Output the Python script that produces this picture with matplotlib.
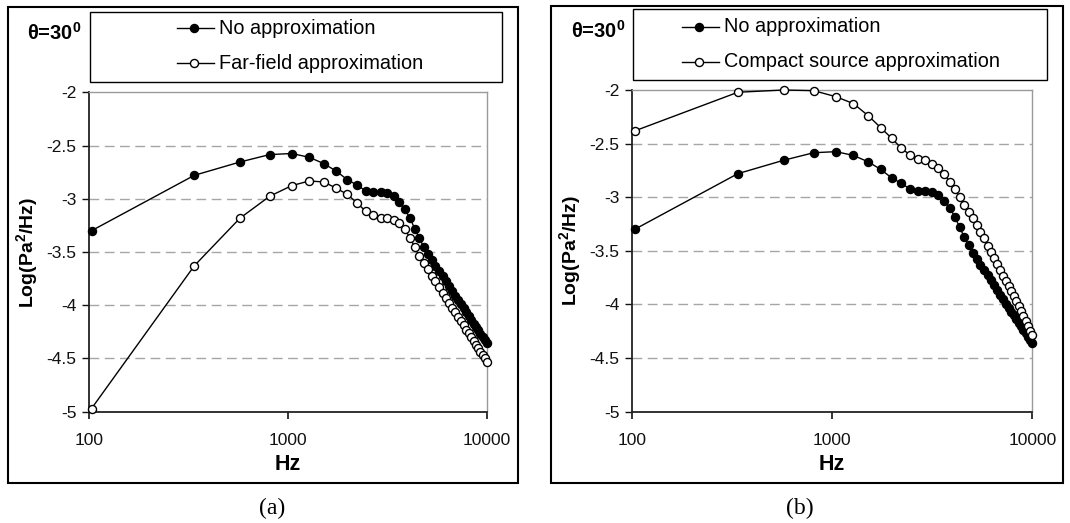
import matplotlib
matplotlib.use("Agg")
import matplotlib.pyplot as plt
from matplotlib.lines import Line2D
from matplotlib.patches import Rectangle
from matplotlib.ticker import FixedLocator, FuncFormatter, NullLocator

plt.rcParams["font.family"] = ["Liberation Sans", "DejaVu Sans"]
plt.rcParams["mathtext.fontset"] = "custom"
plt.rcParams["mathtext.rm"] = "Liberation Sans"
plt.rcParams["mathtext.bf"] = "Liberation Sans:bold"
plt.rcParams["axes.unicode_minus"] = False

# Spectral data (frequency in Hz, level as log10 of Pa^2/Hz)
freq_hz = [103, 338, 573, 808, 1043, 1278, 1513, 1748, 1983, 2218, 2453,
           2688, 2923, 3158, 3393, 3628, 3863, 4098, 4333, 4568, 4803, 5038,
           5273, 5508, 5743, 5978, 6213, 6448, 6683, 6918, 7153, 7388, 7623,
           7858, 8093, 8328, 8563, 8798, 9033, 9268, 9503, 9738, 9973]

no_approx = [-3.30, -2.78, -2.655, -2.585, -2.575, -2.61, -2.67, -2.74, -2.82,
             -2.87, -2.925, -2.94, -2.94, -2.95, -2.975, -3.035, -3.10, -3.18,
             -3.28, -3.37, -3.45, -3.52, -3.576, -3.630, -3.681, -3.728,
             -3.772, -3.818, -3.865, -3.910, -3.952, -3.991, -4.029, -4.066,
             -4.102, -4.137, -4.172, -4.205, -4.237, -4.269, -4.300, -4.330,
             -4.359]

far_field = [-4.97, -3.63, -3.183, -2.977, -2.877, -2.833, -2.842, -2.901,
             -2.958, -3.037, -3.117, -3.152, -3.18, -3.18, -3.196, -3.227,
             -3.286, -3.365, -3.453, -3.54, -3.604, -3.664, -3.722, -3.777,
             -3.830, -3.881, -3.930, -3.977, -4.023, -4.066, -4.109, -4.150,
             -4.189, -4.228, -4.265, -4.302, -4.337, -4.371, -4.405, -4.437,
             -4.469, -4.500, -4.530]

compact_src = [-2.382, -2.021, -2.000, -2.006, -2.062, -2.127, -2.239, -2.351,
               -2.450, -2.544, -2.606, -2.641, -2.656, -2.690, -2.728, -2.784,
               -2.856, -2.926, -3.001, -3.070, -3.138, -3.197, -3.259, -3.321,
               -3.377, -3.455, -3.514, -3.571, -3.627, -3.680, -3.732, -3.781,
               -3.830, -3.876, -3.922, -3.966, -4.011, -4.060, -4.108, -4.155,
               -4.201, -4.246, -4.289]

x_ticks = [100, 1000, 10000]
y_ticks = [-5, -4.5, -4, -3.5, -3, -2.5, -2]
angle_label = r"θ=30$^\mathbf{0}$"

W, H = 1070, 523
fig = plt.figure(figsize=(W / 100, H / 100), dpi=100)
fig.patch.set_facecolor("white")


def fx(x):
    return x / W


def fy(y):
    return 1 - y / H


def style_axes(ax):
    ax.set_xscale("log")
    ax.set_xlim(100, 10000)
    ax.set_ylim(-5, -2)
    ax.xaxis.set_major_locator(FixedLocator(x_ticks))
    ax.xaxis.set_minor_locator(NullLocator())
    ax.xaxis.set_major_formatter(FuncFormatter(lambda v, p: "%d" % v))
    ax.yaxis.set_major_locator(FixedLocator(y_ticks))
    ax.yaxis.set_major_formatter(FuncFormatter(lambda v, p: "%g" % v))
    for y in y_ticks[1:-1]:
        ax.axhline(y, color="#a6a6a6", lw=1.0, dashes=(7, 4), zorder=1)
    for s in ("top", "right"):
        ax.spines[s].set_color("#9a9a9a")
        ax.spines[s].set_linewidth(1.0)
    for s in ("left", "bottom"):
        ax.spines[s].set_color("#222222")
        ax.spines[s].set_linewidth(1.3)
    ax.tick_params(axis="x", direction="out", length=5, width=1.2,
                   pad=10, labelsize=12.5, colors="#111111")
    ax.tick_params(axis="y", direction="out", length=5, width=1.0,
                   pad=4, labelsize=12.5, colors="#111111")
    ax.set_xlabel("Hz", fontsize=15.5, fontweight="bold", labelpad=5)
    ax.set_ylabel(r"Log(Pa$^\mathbf{2}$/Hz)", fontsize=14,
                  fontweight="bold", labelpad=4)


def plot_series(ax, y, filled):
    ax.plot(freq_hz, y, color="black", lw=1.0, marker="o", ms=5.8,
            mfc="black" if filled else "white", mec="black", mew=1.0,
            clip_on=False, zorder=3)


def legend_entry(x0, y, label, filled):
    fig.add_artist(Line2D([fx(x0), fx(x0 + 37)], [fy(y), fy(y)],
                          transform=fig.transFigure, color="black", lw=1.0))
    fig.add_artist(Line2D([fx(x0 + 17)], [fy(y)], transform=fig.transFigure,
                          marker="o", ms=5.8, mec="black", mew=1.0,
                          mfc="black" if filled else "white"))
    fig.text(fx(x0 + 42), fy(y), label, fontsize=14.3, va="center", ha="left")


def frame(x0, y0, x1, y1, lw):
    fig.add_artist(Rectangle((fx(x0), fy(y1)), (x1 - x0) / W, (y1 - y0) / H,
                             transform=fig.transFigure, fill=False,
                             ec="black", lw=lw))


# Panel (a): no approximation vs far-field approximation
axA = fig.add_axes([fx(89), fy(411.7), (487 - 89) / W, (411.7 - 92.3) / H])
style_axes(axA)
plot_series(axA, no_approx, True)
plot_series(axA, far_field, False)
frame(7.5, 6.5, 517.5, 482.5, 1.5)
frame(90, 11.7, 502.3, 82.3, 1.0)
legend_entry(176.7, 28.3, "No approximation", True)
legend_entry(176.7, 63.3, "Far-field approximation", False)
fig.text(fx(54.5), fy(33), angle_label, fontsize=14.5, fontweight="bold",
         ha="center", va="center")
fig.text(fx(272), fy(508), "(a)", fontsize=17, family="Liberation Serif",
         ha="center", va="center")

# Panel (b): no approximation vs compact source approximation
axB = fig.add_axes([fx(632), fy(411.7), (1032.3 - 632) / W, (411.7 - 90) / H])
style_axes(axB)
plot_series(axB, no_approx, True)
plot_series(axB, compact_src, False)
frame(551, 5.5, 1063, 482.5, 1.5)
frame(633.3, 9.3, 1046.7, 80, 1.0)
legend_entry(681.7, 26.7, "No approximation", True)
legend_entry(681.7, 61.7, "Compact source approximation", False)
fig.text(fx(598.5), fy(31), angle_label, fontsize=14.5, fontweight="bold",
         ha="center", va="center")
fig.text(fx(800), fy(508), "(b)", fontsize=17, family="Liberation Serif",
         ha="center", va="center")

fig.savefig("out.png", dpi=100, facecolor="white")
